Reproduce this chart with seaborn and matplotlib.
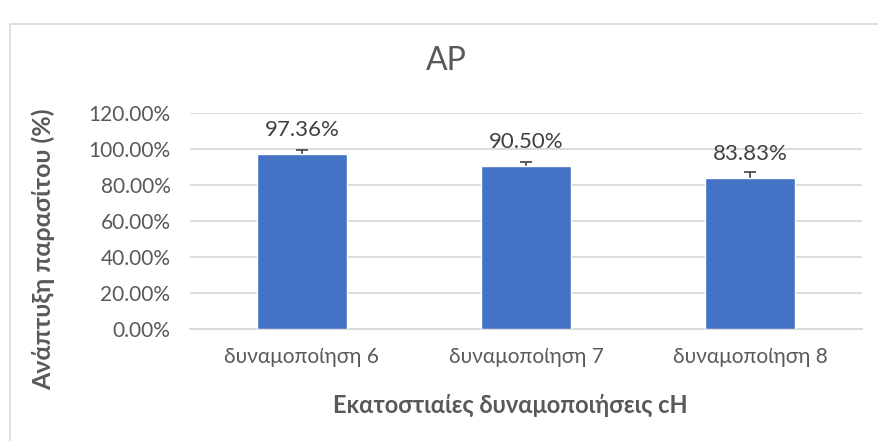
import matplotlib
matplotlib.use("Agg")
import matplotlib.pyplot as plt
import seaborn as sns
import pandas as pd
from matplotlib.patches import Rectangle
from matplotlib.ticker import FuncFormatter

categories = ["δυναμοποίηση 6", "δυναμοποίηση 7", "δυναμοποίηση 8"]
growth = [0.9736, 0.9050, 0.8383]
errors = [0.025, 0.025, 0.036]
yticks = [0.0, 0.2, 0.4, 0.6, 0.8, 1.0, 1.2]

sns.set_theme(style="white")
plt.rcParams["font.family"] = ["Lato", "DejaVu Sans"]

df = pd.DataFrame({"cat": categories, "val": growth})

fig = plt.figure(figsize=(8.79, 4.41), dpi=100)
ax = fig.add_axes([0.216, 0.254, 0.765, 0.489])

# chart frame
fig.patches.append(Rectangle((0.011, -0.01), 1.0, 0.956, transform=fig.transFigure,
                             fill=False, edgecolor="#D9D9D9", linewidth=1.2))

sns.barplot(data=df, x="cat", y="val", color="#4472C4", saturation=1, width=0.4,
            ax=ax, zorder=3)
# plus-only error bars; the lower half stays hidden behind the bars
ax.errorbar(range(len(categories)), growth, yerr=errors,
            fmt="none", ecolor="#404040", elinewidth=1.2, capsize=4, capthick=1.2, zorder=2.5)

for i, v in enumerate(growth):
    ax.annotate(f"{v * 100:.2f}%", (i, v), xytext=(0, 10), textcoords="offset points",
                ha="center", va="bottom", fontsize=16, color="#404040")

ax.set_ylim(0, 1.2)
ax.set_xlim(-0.5, 2.5)
ax.set_yticks(yticks)
ax.yaxis.set_major_formatter(FuncFormatter(lambda v, _: f"{v * 100:.2f}%"))
ax.grid(axis="y", color="#D9D9D9", linewidth=1.3, zorder=0)
ax.set_axisbelow(True)
for s in ["top", "right", "left"]:
    ax.spines[s].set_visible(False)
ax.spines["bottom"].set_color("#D9D9D9")
ax.spines["bottom"].set_linewidth(1.3)
ax.tick_params(axis="both", length=0, labelsize=15, colors="#595959")
ax.tick_params(axis="x", pad=13)
ax.tick_params(axis="y", pad=14)

ax.set_xlabel("Εκατοστιαίες δυναμοποιήσεις cH", fontsize=17, fontweight="bold",
              color="#595959")
ax.xaxis.set_label_coords(0.476, -0.353)
ax.xaxis.label.set_va("center")
ax.set_ylabel("Ανάπτυξη παρασίτου (%)", fontsize=18, fontweight="bold",
              color="#595959")
ax.yaxis.set_label_coords(-0.218, 0.37)
ax.yaxis.label.set_va("center")
fig.text(0.508, 0.862, "AP", ha="center", va="center", fontsize=23, color="#595959")

fig.savefig("out.png", dpi=100)
